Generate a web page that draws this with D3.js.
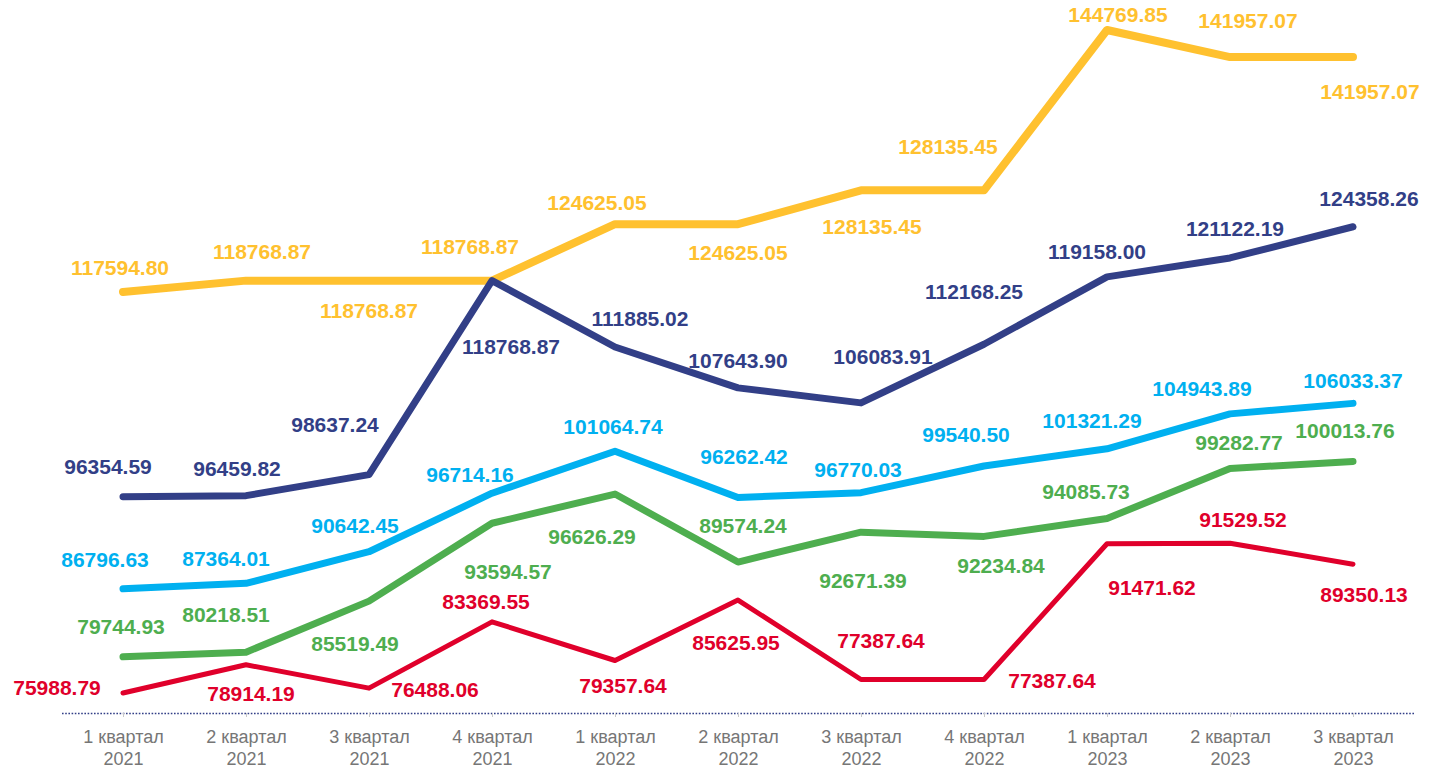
<!DOCTYPE html>
<head>
  <meta charset="utf-8">
  <script src="https://cdn.jsdelivr.net/npm/d3@7"></script>
  <style>
    body { margin: 0; background: #fff; }
    svg { display: block; }
  </style>
</head>
<body>
  <div id="chartDiv"></div>
  <script>

    // quarters shown on the x axis
    var quarters = ["1 квартал", "2 квартал", "3 квартал", "4 квартал",
                    "1 квартал", "2 квартал", "3 квартал", "4 квартал",
                    "1 квартал", "2 квартал", "3 квартал"];
    var years = ["2021", "2021", "2021", "2021", "2022", "2022", "2022", "2022", "2023", "2023", "2023"];

    // series values
    var yellowValues = [117594.80, 118768.87, 118768.87, 118768.87, 124625.05, 124625.05,
                        128135.45, 128135.45, 144769.85, 141957.07, 141957.07];
    var navyValues   = [96354.59, 96459.82, 98637.24, 118768.87, 111885.02, 107643.90,
                        106083.91, 112168.25, 119158.00, 121122.19, 124358.26];
    var cyanValues   = [86796.63, 87364.01, 90642.45, 96714.16, 101064.74, 96262.42,
                        96770.03, 99540.50, 101321.29, 104943.89, 106033.37];
    var greenValues  = [79744.93, 80218.51, 85519.49, 93594.57, 96626.29, 89574.24,
                        92671.39, 92234.84, 94085.73, 99282.77, 100013.76];
    var redValues    = [75988.79, 78914.19, 76488.06, 83369.55, 79357.64, 85625.95,
                        77387.64, 77387.64, 91471.62, 91529.52, 89350.13];

    // where each value label sits relative to its point (dx, dy to label centre)
    var yellowLabelPos = [[-3,-25],[16,-29],[0,30],[-22,-34],[-18,-22],[0,28],[11,36],[-36,-44],[11,-16],[18,-37],[17,34]];
    var navyLabelPos   = [[-15,-30],[-9,-27],[-34,-50],[19,66],[25,-29],[0,-27],[22,-46],[-10,-53],[-10,-25],[5,-30],[16,-28]];
    var cyanLabelPos   = [[-18,-29],[-20,-25],[-14,-26],[-22,-19],[-2,-25],[6,-41],[-3,-23],[-18,-32],[-15,-28],[-28,-25],[0,-23]];
    var greenLabelPos  = [[-2,-30],[-20,-38],[-14,42],[16,48],[-23,42],[5,-37],[2,48],[17,29],[-21,-27],[9,-26],[-8,-31]];
    var redLabelPos    = [[-66,-6],[5,29],[66,1],[-6,-20],[8,25],[-2,42],[20,-39],[68,1],[45,44],[13,-24],[11,30]];

    var series = [
      {values: yellowValues, labels: yellowLabelPos, color: "#FFC12F", width: 8},
      {values: navyValues,   labels: navyLabelPos,   color: "#323F87", width: 7},
      {values: cyanValues,   labels: cyanLabelPos,   color: "#00B0F0", width: 7},
      {values: greenValues,  labels: greenLabelPos,  color: "#4EAE4F", width: 7},
      {values: redValues,    labels: redLabelPos,    color: "#E0002B", width: 5}
    ];

    var width = 1444;
    var height = 768;
    var axisY = 713;

    var svg = d3.select("#chartDiv").append("svg")
        .attr("width", width)
        .attr("height", height);

    var keys = quarters.map(function(q, i) { return i; });

    var x = d3.scalePoint()
        .domain(keys)
        .range([61.5, 1414.5])
        .padding(0.5);

    var y = d3.scaleLinear()
        .domain([70000, 150000])
        .range([750.7, -20.4]);

    // x axis: dotted baseline with small ticks and two-line labels
    var xAxis = svg.append("g")
        .attr("transform", "translate(0," + axisY + ")")
        .call(d3.axisBottom(x).tickSize(4).tickSizeOuter(0).tickFormat(""));

    xAxis.select(".domain")
        .attr("stroke", "#323F87")
        .attr("stroke-width", 1.6)
        .attr("stroke-dasharray", "1.6,1.6");

    xAxis.selectAll(".tick line")
        .attr("stroke", "#c8c8c8")
        .attr("stroke-width", 1);

    var tickText = xAxis.selectAll(".tick").append("text")
        .attr("fill", "#767676")
        .attr("text-anchor", "middle")
        .style("font-family", "'Liberation Sans', Arial, sans-serif")
        .style("font-size", "18px");

    tickText.append("tspan")
        .attr("x", 0)
        .attr("y", 30)
        .text(function(d) { return quarters[d]; });

    tickText.append("tspan")
        .attr("x", 0)
        .attr("y", 52)
        .text(function(d) { return years[d]; });

    var line = d3.line()
        .x(function(d, i) { return x(i); })
        .y(function(d) { return y(d); });

    svg.selectAll("path.series")
        .data(series)
      .enter().append("path")
        .attr("class", "series")
        .attr("d", function(s) { return line(s.values); })
        .attr("fill", "none")
        .attr("stroke", function(s) { return s.color; })
        .attr("stroke-width", function(s) { return s.width; })
        .attr("stroke-linecap", "round")
        .attr("stroke-linejoin", "round");

    // value labels
    series.forEach(function(s) {
      svg.append("g").selectAll("text")
          .data(s.values)
        .enter().append("text")
          .attr("x", function(d, i) { return x(i) + s.labels[i][0]; })
          .attr("y", function(d, i) { return y(d) + s.labels[i][1]; })
          .attr("dy", "0.36em")
          .attr("text-anchor", "middle")
          .attr("fill", s.color)
          .style("font-family", "'Liberation Sans', Arial, sans-serif")
          .style("font-weight", "bold")
          .style("font-size", "21px")
          .text(function(d) { return d.toFixed(2); });
    });

  </script>
</body>
